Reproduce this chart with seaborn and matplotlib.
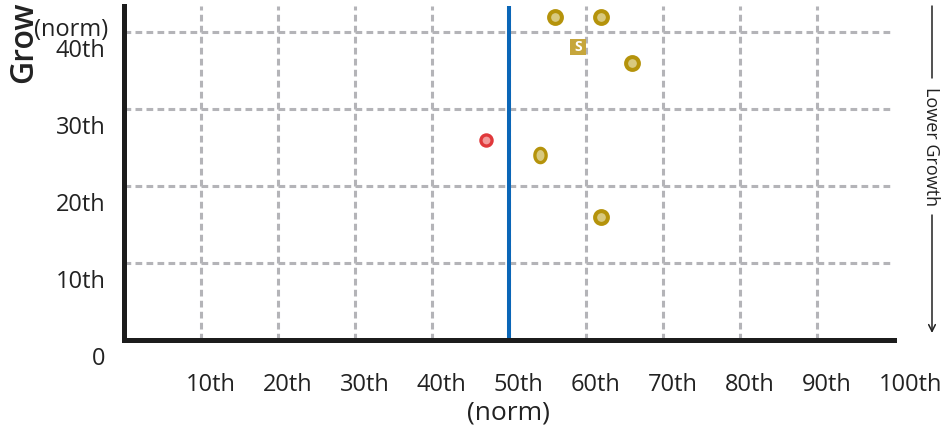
import matplotlib
matplotlib.use("Agg")
import matplotlib.pyplot as plt
import seaborn as sns
import pandas as pd
import numpy as np
from matplotlib.path import Path
from matplotlib.lines import Line2D
from matplotlib.patches import Rectangle
from matplotlib.transforms import ScaledTranslation

# ---- data ----
x_ticks = [10, 20, 30, 40, 50, 60, 70, 80, 90, 100]
x_tick_labels = ["10th", "20th", "30th", "40th", "50th", "60th", "70th", "80th", "90th", "100th"]
y_ticks = [0, 10, 20, 30, 40]
y_tick_labels = ["0", "10th", "20th", "30th", "40th"]

gold_x = [56, 62, 66, 62]
gold_y = [42, 42, 36, 16]
red_x = [47]
red_y = [26]
oval_x = [54]
oval_y = [24]
square_x = [59]
square_y = [38]
square_text = ["S"]
median_x = 50

x_label = "(norm)"
y_label = "Growth"
y_label_sub = "(norm)"
side_label = "Lower Growth"

# ---- style ----
sns.set_theme(style="white")
plt.rcParams['font.family'] = ['Open Sans', 'DejaVu Sans']
TXT = "#222222"

W, H = 947, 436
fig = plt.figure(figsize=(W / 100, H / 100), dpi=100)
left_px, right_px, top_px, bottom_px = 123.5, 894, 6, 340
ax = fig.add_axes([left_px / W, 1 - bottom_px / H,
                   (right_px - left_px) / W, (bottom_px - top_px) / H])
ax.set_xlim(0, 100)
ax.set_ylim(0, (bottom_px - top_px) / 7.7)

# grid
ax.set_xticks(x_ticks, x_tick_labels)
ax.set_yticks(y_ticks, y_tick_labels)
ax.grid(True, color="#b4b4b8", linewidth=2.2, linestyle=(0, (2.2, 1.4)), zorder=1)
ax.set_axisbelow(True)
for gl, t in zip(ax.get_xgridlines(), x_ticks):
    if t >= 100:
        gl.set_visible(False)
for gl, t in zip(ax.get_ygridlines(), y_ticks):
    if t <= 0:
        gl.set_visible(False)

# spines
for s in ["top", "right"]:
    ax.spines[s].set_visible(False)
for s in ["left", "bottom"]:
    ax.spines[s].set_color("#1c1c1c")
    ax.spines[s].set_linewidth(3.6)
    ax.spines[s].set_zorder(6)

# ticks
ax.tick_params(axis="both", length=0, labelsize=17, labelcolor=TXT)
ax.tick_params(axis="x", pad=24)
ax.tick_params(axis="y", pad=13)
for lab in ax.get_xticklabels():
    lab.set_ha("left")
    lab.set_transform(lab.get_transform() + ScaledTranslation(-15 / 100, 0, fig.dpi_scale_trans))
for lab in ax.get_yticklabels():
    lab.set_transform(lab.get_transform() + ScaledTranslation(0, -16 / 100, fig.dpi_scale_trans))

# median line
ax.axvline(median_x, color="#0a66b7", linewidth=2.9, zorder=3)

# markers
gold_df = pd.DataFrame({"x": gold_x, "y": gold_y})
red_df = pd.DataFrame({"x": red_x, "y": red_y})
oval_df = pd.DataFrame({"x": oval_x, "y": oval_y})
sq_df = pd.DataFrame({"x": square_x, "y": square_y, "t": square_text})

sns.scatterplot(data=gold_df, x="x", y="y", ax=ax, marker="o", s=85,
                color="#d8c97f", edgecolor="#b5930b", linewidth=2.9, zorder=5, legend=False)
sns.scatterplot(data=red_df, x="x", y="y", ax=ax, marker="o", s=64,
                color="#f29a9a", edgecolor="#e0383b", linewidth=2.4, zorder=5, legend=False)
th = np.linspace(0, 2 * np.pi, 65)
ell = Path(np.column_stack([0.79 * np.cos(th), np.sin(th)]), closed=True)
sns.scatterplot(data=oval_df, x="x", y="y", ax=ax, marker=ell, s=105,
                color="#d8c97f", edgecolor="#b5930b", linewidth=2.4, zorder=5, legend=False)
sns.scatterplot(data=sq_df, x="x", y="y", ax=ax, marker="s", s=135,
                color="#c6a63c", edgecolor="none", linewidth=0, zorder=5, legend=False)
for _, r in sq_df.iterrows():
    ax.text(r["x"], r["y"], r["t"], color="white", fontsize=10, fontweight="bold",
            ha="center", va="center", zorder=7)

ax.set_xlabel("")
ax.set_ylabel("")

# axis titles
fig.text(508 / W, 1 - 413 / H, x_label, ha="center", va="center", fontsize=19, color=TXT)
yl = fig.text(24 / W, 1 - 83 / H, y_label, rotation=90, ha="center", va="bottom",
              fontsize=23, fontweight="semibold", color=TXT)
clip_rect = Rectangle((0, 0), 1, 1 - 4 / H, transform=fig.transFigure, visible=False)
fig.add_artist(clip_rect)
yl.set_clip_path(clip_rect)
fig.text(108 / W, 1 - 30 / H, y_label_sub, ha="right", va="center", fontsize=17, color=TXT)

# side annotation
ax_x = 932 / W
fig.add_artist(Line2D([ax_x, ax_x], [1 - 6 / H, 1 - 78 / H], transform=fig.transFigure,
                      color=TXT, linewidth=1.1))
fig.text(ax_x - 1 / W, 1 - 146.5 / H, side_label, rotation=-90, ha="center", va="center",
         fontsize=13, color=TXT)
ax.annotate("", xy=(ax_x, 1 - 333 / H), xytext=(ax_x, 1 - 215 / H),
            xycoords="figure fraction", textcoords="figure fraction",
            arrowprops=dict(arrowstyle="->", lw=1.1, color=TXT, mutation_scale=12,
                            shrinkA=0, shrinkB=0))

fig.savefig("out.png", dpi=100)
